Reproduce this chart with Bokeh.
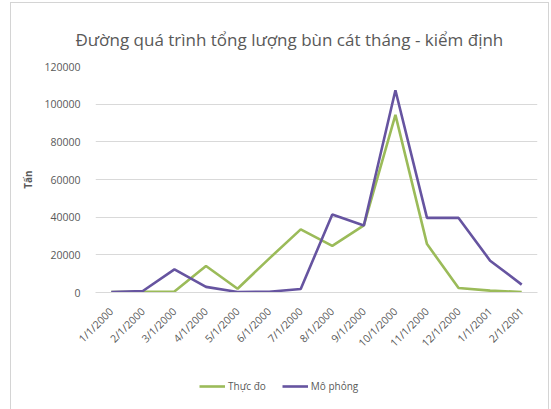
from math import pi

from bokeh.embed import file_html
from bokeh.layouts import column
from bokeh.models import (BasicTickFormatter, FactorRange, FixedTicker, Legend,
                          LegendItem, Range1d)
from bokeh.plotting import figure
from bokeh.resources import INLINE

# Monthly sediment totals (tonnes), measured vs simulated
months = ["1/1/2000", "2/1/2000", "3/1/2000", "4/1/2000", "5/1/2000", "6/1/2000",
          "7/1/2000", "8/1/2000", "9/1/2000", "10/1/2000", "11/1/2000", "12/1/2000",
          "1/1/2001", "2/1/2001"]
thuc_do = [300, 400, 500, 14100, 2000, 18000, 33500, 24800, 35600, 94300, 25700, 2400, 1000, 300]
mo_phong = [300, 800, 12300, 3000, 300, 400, 1900, 41400, 35600, 107400, 39600, 39600, 16900, 4200]
y_ticks = [0, 20000, 40000, 60000, 80000, 100000, 120000]
series_names = ["Thực đo", "Mô phỏng"]

title_text = "Đường quá trình tổng lượng bùn cát tháng - kiểm định"
font = "Open Sans"
GREEN = "#9BBB59"
PURPLE = "#6654A0"
TEXT = "#595959"

# Main chart
p = figure(
    frame_width=442, frame_height=226,
    x_range=FactorRange(*months, range_padding=0),
    y_range=Range1d(0, 120000),
    output_backend="svg", toolbar_location=None,
    min_border_left=84, min_border_right=11, min_border_top=63, min_border_bottom=62,
)
p.outline_line_color = None
p.background_fill_color = "white"
p.border_fill_color = "white"

p.title.text = title_text
p.title.align = "left"
p.title.offset = -20
p.title.standoff = 31
p.title.text_font = font
p.title.text_font_size = "17px"
p.title.text_font_style = "normal"
p.title.text_color = TEXT

p.xgrid.grid_line_color = None
p.ygrid.grid_line_color = "#d9d9d9"
p.ygrid.grid_line_width = 1

p.yaxis.ticker = FixedTicker(ticks=y_ticks)
p.yaxis.formatter = BasicTickFormatter(use_scientific=False)
p.yaxis.axis_line_color = None
p.yaxis.major_tick_line_color = None
p.yaxis.minor_tick_line_color = None
p.yaxis.major_label_text_font = font
p.yaxis.major_label_text_font_size = "10.5px"
p.yaxis.major_label_text_color = TEXT
p.yaxis.major_label_standoff = 9
p.yaxis.axis_label = "Tấn"
p.yaxis.axis_label_text_font = font
p.yaxis.axis_label_text_font_size = "10px"
p.yaxis.axis_label_text_font_style = "bold"
p.yaxis.axis_label_text_color = TEXT
p.yaxis.axis_label_standoff = 6

p.xaxis.axis_line_color = "#d9d9d9"
p.xaxis.major_tick_line_color = None
p.xaxis.minor_tick_line_color = None
p.xaxis.major_label_orientation = pi / 4
p.xaxis.major_label_text_font = font
p.xaxis.major_label_text_font_size = "10.5px"
p.xaxis.major_label_text_color = TEXT
p.xaxis.major_label_standoff = 11

p.line(months, thuc_do, line_color=GREEN, line_width=2.6)
p.line(months, mo_phong, line_color=PURPLE, line_width=2.6)

# Legend strip under the chart: same series, drawn outside its visible range
q = figure(
    width=537, height=53,
    x_range=FactorRange(*months, range_padding=0),
    y_range=Range1d(-2e5, -1e5),
    x_axis_type=None, y_axis_type=None,
    output_backend="svg", toolbar_location=None,
    min_border_left=0, min_border_right=0, min_border_top=0, min_border_bottom=0,
)
q.outline_line_color = None
q.background_fill_color = "white"
q.border_fill_color = "white"
q1 = q.line(months, thuc_do, line_color=GREEN, line_width=2.6)
q2 = q.line(months, mo_phong, line_color=PURPLE, line_width=2.6)

legend = Legend(
    items=[LegendItem(label=series_names[0], renderers=[q1]),
           LegendItem(label=series_names[1], renderers=[q2])],
    orientation="horizontal",
    location=(104, 17),
    label_text_font=font, label_text_font_size="10px", label_text_color=TEXT,
    glyph_width=26, glyph_height=10, label_standoff=3, spacing=16,
    border_line_color=None, background_fill_alpha=0, padding=0, margin=0,
)
q.add_layout(legend)

layout = column(
    p, q, spacing=0,
    styles={"border": "1px solid #d4d4d4", "margin-left": "10px", "margin-top": "2px"},
)

open("out.html", "w").write(file_html(layout, INLINE))
